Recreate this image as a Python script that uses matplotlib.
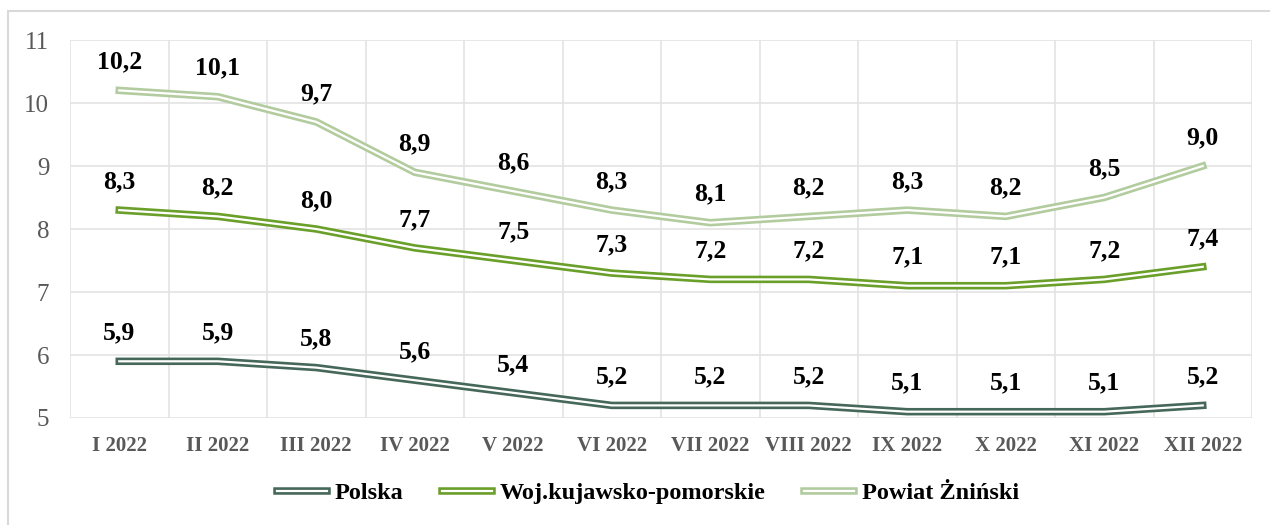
import matplotlib
matplotlib.use("Agg")
import matplotlib.pyplot as plt
import matplotlib.patheffects as pe
from matplotlib.patches import Rectangle

# data
months = ["I 2022", "II 2022", "III 2022", "IV 2022", "V 2022", "VI 2022",
          "VII 2022", "VIII 2022", "IX 2022", "X 2022", "XI 2022", "XII 2022"]
polska = [5.9, 5.9, 5.8, 5.6, 5.4, 5.2, 5.2, 5.2, 5.1, 5.1, 5.1, 5.2]
wojewodztwo = [8.3, 8.2, 8.0, 7.7, 7.5, 7.3, 7.2, 7.2, 7.1, 7.1, 7.2, 7.4]
powiat = [10.2, 10.1, 9.7, 8.9, 8.6, 8.3, 8.1, 8.2, 8.3, 8.2, 8.5, 9.0]
names = ["Polska", "Woj.kujawsko-pomorskie", "Powiat Żniński"]
colors = ["#46685a", "#6a9f2a", "#b3cc9f"]

plt.rcParams["font.family"] = ["Liberation Serif", "DejaVu Serif"]

fig = plt.figure(figsize=(12.7, 5.25), dpi=100)
ax = fig.add_axes([70 / 1270, 1 - 418 / 525, 1182 / 1270, 378 / 525])

# outer chart frame
fig.patches.append(Rectangle((8 / 1270, -0.05), 1.1, 1 - 11 / 525 + 0.05,
                             transform=fig.transFigure, fill=False,
                             edgecolor="#d9d9d9", linewidth=1.5))

x = list(range(len(months)))
for series, name, col in zip([polska, wojewodztwo, powiat], names, colors):
    # double line: coloured stroke with a thin white core
    ax.plot(x, series, color="white", linewidth=1.6, label=name,
            solid_joinstyle="round",
            path_effects=[pe.Stroke(linewidth=5.4, foreground=col), pe.Normal()])
    for xi, v in zip(x, series):
        ax.annotate(f"{v:.1f}".replace(".", ","), (xi, v), xytext=(0, 20.5),
                    textcoords="offset points", ha="center", va="center",
                    fontsize=18.5, fontweight="bold", color="black")

ax.set_xlim(-0.5, len(months) - 0.5)
ax.set_ylim(5, 11)
ax.set_yticks(range(5, 12))
ax.set_xticks(x)
ax.set_xticklabels(months, fontsize=15, fontweight="bold", color="#595959")
ax.set_xticks([i - 0.5 for i in range(len(months) + 1)], minor=True)
ax.tick_params(axis="y", labelsize=18, labelcolor="#595959", length=0, pad=15)
ax.tick_params(axis="x", which="both", length=0, pad=13)
ax.grid(axis="y", color="#e3e3e3", linewidth=1.2)
ax.grid(axis="x", which="minor", color="#e3e3e3", linewidth=1.2)
for s in ax.spines.values():
    s.set_visible(False)
ax.set_axisbelow(True)

fig.legend(loc="center", bbox_to_anchor=(648 / 1270, 1 - 493 / 525), ncol=3,
           frameon=False, prop={"size": 17.5, "weight": "bold"},
           handlelength=2.06, columnspacing=1.6, handletextpad=0.3)

fig.savefig("out.png", dpi=100)
